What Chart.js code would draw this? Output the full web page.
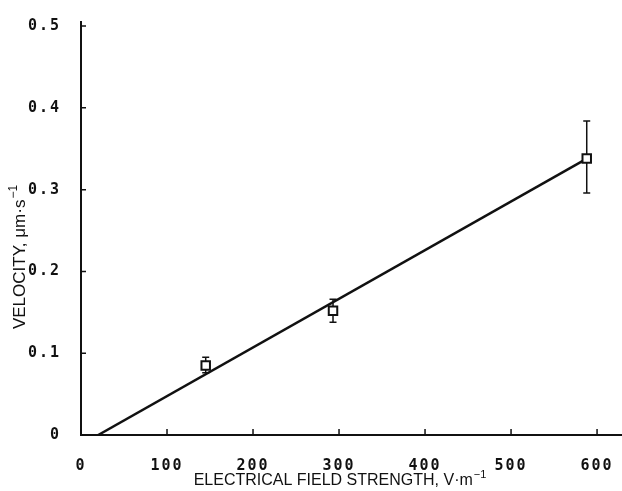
<!DOCTYPE html>
<html>
<head>
<meta charset="utf-8">
<script src="https://cdn.jsdelivr.net/npm/chart.js@4.4.1/dist/chart.umd.min.js"></script>
<style>
  html, body { margin: 0; padding: 0; background: #fff; overflow: hidden; }
  #wrap { width: 622px; height: 491px; position: relative; }
  #chart { display: block; }
</style>
</head>
<body>
<div id="wrap"><canvas id="chart"></canvas></div>
<script>
// measured points: field strength (V/m) -> velocity (um/s)
var fieldStrength = [145, 293, 588];
var velocity = [0.085, 0.152, 0.338];
var errLow = [0.076, 0.138, 0.296];
var errHigh = [0.095, 0.166, 0.384];

// fitted line end points
var fitX = [20, 585];
var fitY = [0, 0.336];

var xTicks = [0, 100, 200, 300, 400, 500, 600];
var yTicks = [0, 0.1, 0.2, 0.3, 0.4, 0.5];
var xTitle = ['ELECTRICAL FIELD STRENGTH, V\u00b7m', '\u22121'];
var yTitle = ['VELOCITY, \u03bcm\u00b7s', '\u22121'];

var ink = '#111';
var tickFont = { family: '"DejaVu Sans Mono", monospace', size: 15, weight: 'bold' };

// text with a raised exponent, centred on (cx, cy)
function drawSupText(ctx, parts, cx, cy, size) {
    var baseFont = size + 'px "Liberation Sans", Arial, sans-serif';
    var supFont = Math.round(size * 0.7) + 'px "Liberation Sans", Arial, sans-serif';
    ctx.font = baseFont;
    var w1 = ctx.measureText(parts[0]).width;
    ctx.font = supFont;
    var w2 = ctx.measureText(parts[1]).width;
    var x0 = cx - (w1 + w2 + 1) / 2;
    ctx.textAlign = 'left';
    ctx.textBaseline = 'middle';
    ctx.font = baseFont;
    ctx.fillText(parts[0], x0, cy);
    ctx.font = supFont;
    ctx.fillText(parts[1], x0 + w1 + 1, cy - size * 0.38);
}

// error bars, inward tick marks and axis titles
var extrasPlugin = {
    id: 'extras',
    beforeDraw: function (chart) {
        chart.ctx.letterSpacing = '2px';
    },
    beforeDatasetsDraw: function (chart) {
        var ctx = chart.ctx;
        var xs = chart.scales.x, ys = chart.scales.y;
        ctx.save();
        ctx.strokeStyle = ink;
        ctx.lineWidth = 1.5;
        for (var i = 0; i < fieldStrength.length; i++) {
            var px = xs.getPixelForValue(fieldStrength[i]);
            var lo = ys.getPixelForValue(errLow[i]);
            var hi = ys.getPixelForValue(errHigh[i]);
            ctx.beginPath();
            ctx.moveTo(px, lo); ctx.lineTo(px, hi);
            ctx.moveTo(px - 3.5, lo); ctx.lineTo(px + 3.5, lo);
            ctx.moveTo(px - 3.5, hi); ctx.lineTo(px + 3.5, hi);
            ctx.stroke();
        }
        ctx.restore();
    },
    afterDraw: function (chart) {
        var ctx = chart.ctx;
        var xs = chart.scales.x, ys = chart.scales.y;
        var area = chart.chartArea;
        ctx.save();
        ctx.letterSpacing = '0px';
        ctx.strokeStyle = ink;
        ctx.lineWidth = 1.5;
        ctx.beginPath();
        yTicks.forEach(function (v) {
            var py = ys.getPixelForValue(v);
            ctx.moveTo(area.left, py); ctx.lineTo(area.left + 5, py);
        });
        xTicks.forEach(function (v) {
            var px = xs.getPixelForValue(v);
            ctx.moveTo(px, area.bottom); ctx.lineTo(px, area.bottom - 6);
        });
        ctx.stroke();

        ctx.fillStyle = ink;
        drawSupText(ctx, xTitle, 340, 481, 16);

        ctx.translate(20, 257);
        ctx.rotate(-Math.PI / 2);
        drawSupText(ctx, yTitle, 0, 0, 17);
        ctx.restore();
    }
};

new Chart(document.getElementById('chart'), {
    type: 'scatter',
    data: {
        datasets: [
            {
                data: fieldStrength.map(function (x, i) { return { x: x, y: velocity[i] }; }),
                showLine: false,
                pointStyle: 'rect',
                pointRadius: 6,
                backgroundColor: '#fff',
                borderColor: ink,
                borderWidth: 2
            },
            {
                data: fitX.map(function (x, i) { return { x: x, y: fitY[i] }; }),
                showLine: true,
                pointRadius: 0,
                borderColor: ink,
                borderWidth: 2.5
            }
        ]
    },
    options: {
        responsive: true,
        maintainAspectRatio: false,
        animation: false,
        layout: { autoPadding: false, padding: { top: 22, right: 0, left: 0, bottom: 0 } },
        plugins: { legend: { display: false }, tooltip: { enabled: false } },
        scales: {
            x: {
                type: 'linear',
                position: 'bottom',
                min: 0,
                max: 629,
                grid: { display: false },
                border: { display: true, color: ink, width: 2 },
                ticks: { color: ink, font: tickFont, padding: 14, maxRotation: 0, autoSkip: false },
                afterBuildTicks: function (s) { s.ticks = xTicks.map(function (v) { return { value: v }; }); },
                afterFit: function (s) { s.height = 56; s.paddingLeft = 0; s.paddingRight = 0; }
            },
            y: {
                type: 'linear',
                min: 0,
                max: 0.505,
                grid: { display: false },
                border: { display: true, color: ink, width: 2 },
                ticks: {
                    color: ink, font: tickFont, padding: 12,
                    callback: function (v) { return v === 0 ? '0' : v.toFixed(1); }
                },
                afterBuildTicks: function (s) { s.ticks = yTicks.map(function (v) { return { value: v }; }); },
                afterFit: function (s) { s.width = 81; s.paddingTop = 0; s.paddingBottom = 0; }
            }
        }
    },
    plugins: [extrasPlugin]
});
</script>
</body>
</html>
